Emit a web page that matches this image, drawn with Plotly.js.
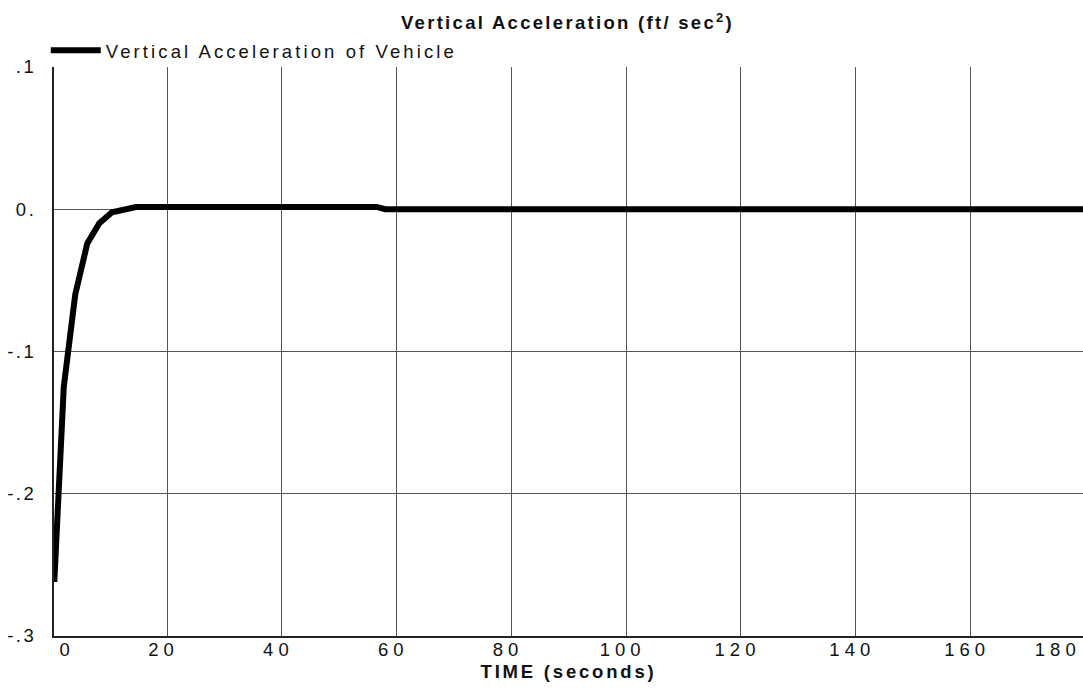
<!DOCTYPE html>
<html>
<head>
<meta charset="utf-8">
<script src="https://cdn.plot.ly/plotly-3.0.1.min.js"></script>
<style>
html,body{margin:0;padding:0;background:#fff;}
#chart{width:1083px;height:692px;}
.main-svg .x2tick text{letter-spacing:5px;}
.main-svg .ytick text{letter-spacing:2.5px;}
.main-svg .legendtext{letter-spacing:3.1px;}
.main-svg .gtitle{letter-spacing:2.3px;}
.main-svg .x2title{letter-spacing:2.8px;}
</style>
</head>
<body>
<div id="chart"></div>
<script>
// Data
const timeSec = [0.35, 2.0, 4.0, 6.1, 8.2, 10.4, 14.6, 56.5, 58.0, 179.6];
const vertAccel = [-0.262, -0.125, -0.060, -0.024, -0.0098, -0.0021, 0.0016, 0.0016, 0.0, 0.0];
const xTickText = ['0','20','40','60','80','100','120','140','160','180'];
const xTickLabelPos = [2.6, 19.4, 39.4, 59.4, 79.4, 99.4, 119.4, 139.4, 159.4, 175.2];
const yTickVals = [0.1, 0, -0.1, -0.2, -0.3];
const yTickText = ['.1', '0.', '-.1', '-.2', '-.3'];

const font = 'Liberation Sans, Arial, sans-serif';

const trace = {
  x: timeSec, y: vertAccel, type: 'scatter', mode: 'lines',
  name: 'Vertical Acceleration of Vehicle',
  line: {color: '#000', width: 6}
};
const dummy = {x: [], y: [], xaxis: 'x2', yaxis: 'y', showlegend: false, hoverinfo: 'skip'};

const layout = {
  width: 1083, height: 692,
  margin: {l: 54, r: 0, t: 67, b: 56},
  paper_bgcolor: '#fff', plot_bgcolor: '#fff',
  font: {family: font, size: 18, color: '#111'},
  title: {text: '<b>Vertical Acceleration (ft/ sec<sup>2</sup>)</b>', font: {family: font, size: 18.5, color: '#111'},
          x: 0.524, xanchor: 'center', y: 0.967, yanchor: 'middle'},
  showlegend: true,
  legend: {x: -0.008, xanchor: 'left', y: 0.995, yanchor: 'bottom', bgcolor: 'rgba(0,0,0,0)',
           font: {family: font, size: 18.5, color: '#111'}, itemwidth: 50, borderwidth: 0,
           tracegroupgap: 0},
  xaxis: {range: [0.3, 179.6], tickmode: 'array', tickvals: [20,40,60,80,100,120,140,160,180],
          showticklabels: false, ticks: '', showgrid: true, gridcolor: '#555', gridwidth: 1,
          showline: true, linecolor: '#222', linewidth: 2, zeroline: false, mirror: false},
  xaxis2: {overlaying: 'x', matches: 'x', anchor: 'y', side: 'bottom', tickmode: 'array',
           tickvals: xTickLabelPos, ticktext: xTickText, showgrid: false, showline: false,
           zeroline: false, ticks: '', tickfont: {family: font, size: 18.5, color: '#111'},
           title: {text: '<b>TIME (seconds)</b>', font: {family: font, size: 18.5, color: '#111'}, standoff: 6}},
  yaxis: {range: [-0.3, 0.1], tickmode: 'array', tickvals: yTickVals, ticktext: yTickText,
          ticks: '', showgrid: true, gridcolor: '#555', gridwidth: 1, zeroline: false,
          showline: true, linecolor: '#222', linewidth: 2, ticklabelstandoff: 12,
          tickfont: {family: font, size: 18.5, color: '#111'}}
};

Plotly.newPlot('chart', [trace, dummy], layout, {displayModeBar: false, staticPlot: true}).then(function (gd) {
  gd.querySelectorAll('.legend, .legend *').forEach(function (el) {
    if (el.hasAttribute('clip-path')) el.removeAttribute('clip-path');
  });
});
</script>
</body>
</html>
